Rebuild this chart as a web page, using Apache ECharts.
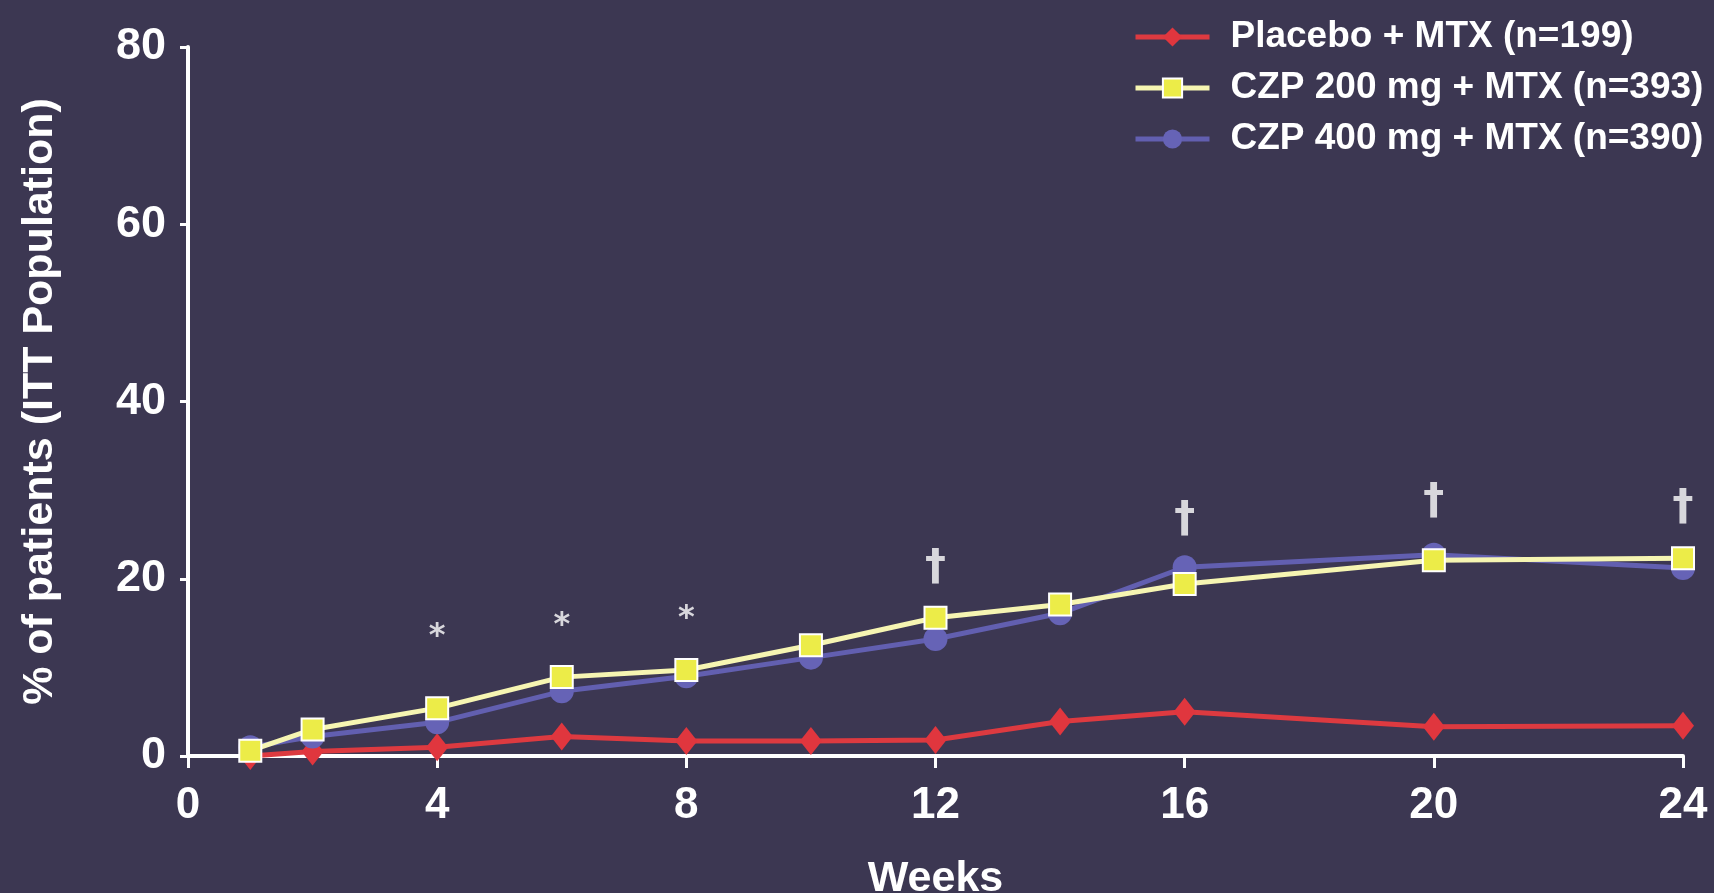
<!DOCTYPE html>
<html>
<head>
<meta charset="utf-8">
<title>% of patients by week</title>
<script src="https://cdn.jsdelivr.net/npm/echarts@6/dist/echarts.min.js"></script>
<style>
  html, body { margin: 0; padding: 0; background: #3b3650; }
  #chart { width: 1714px; height: 893px; }
</style>
</head>
<body>
<div id="chart"></div>
<script>
// Study weeks at which response was assessed
const weeks = [1, 2, 4, 6, 8, 10, 12, 14, 16, 20, 24];

// % of patients (ITT population) per arm
const placebo = [0.0, 0.5, 1.0, 2.2, 1.7, 1.7, 1.8, 3.9, 5.0, 3.3, 3.4];
const czp200  = [0.6, 3.0, 5.4, 8.9, 9.7, 12.5, 15.6, 17.1, 19.4, 22.1, 22.3];
const czp400  = [1.0, 2.2, 3.8, 7.3, 9.0, 11.1, 13.2, 16.1, 21.3, 22.7, 21.2];

const seriesNames = [
  'Placebo + MTX (n=199)',
  'CZP 200 mg + MTX (n=393)',
  'CZP 400 mg + MTX (n=390)'
];

// Significance markers above the curves
const markWeeks  = [4, 6, 8, 12, 16, 20, 24];
const markLevels = [13.5, 14.7, 15.5, 21.2, 26.6, 28.6, 28.0];
const markTexts  = ['*', '*', '*', '\u2020', '\u2020', '\u2020', '\u2020'];

const xTicks = [0, 4, 8, 12, 16, 20, 24];
const yTicks = [0, 20, 40, 60, 80];

const pairs = vals => weeks.map((w, i) => [w, vals[i]]);

const FONT = '"Liberation Sans", Arial, sans-serif';
const MARK_FONT = '"DejaVu Sans", "Liberation Sans", sans-serif';
const white = '#ffffff';

const chart = echarts.init(document.getElementById('chart'), null, { renderer: 'canvas' });

chart.setOption({
  backgroundColor: '#3c3752',
  animation: false,
  grid: { left: 188, right: 31, top: 47, bottom: 137, containLabel: false, outerBoundsMode: 'none' },
  legend: {
    data: seriesNames,
    orient: 'vertical',
    left: 1128,
    top: 11,
    itemWidth: 74,
    itemHeight: 24,
    itemGap: 9,
    lineStyle: { width: 5 },
    textStyle: {
      color: white,
      fontFamily: FONT,
      fontWeight: 'bold',
      fontSize: 37,
      lineHeight: 42,
      padding: [0, 0, 0, 16]
    }
  },
  xAxis: {
    type: 'value',
    min: xTicks[0],
    max: xTicks[xTicks.length - 1],
    interval: 4,
    name: 'Weeks',
    nameLocation: 'middle',
    nameGap: 102,
    nameTextStyle: { color: white, fontFamily: FONT, fontWeight: 'bold', fontSize: 43 },
    axisLine: { show: true, onZero: false, lineStyle: { color: white, width: 4 } },
    axisTick: { show: true, inside: false, length: 12, lineStyle: { color: white, width: 3 } },
    axisLabel: { color: white, fontFamily: FONT, fontWeight: 'bold', fontSize: 44, margin: 28 },
    splitLine: { show: false }
  },
  yAxis: {
    type: 'value',
    min: yTicks[0],
    max: yTicks[yTicks.length - 1],
    interval: 20,
    name: '% of patients (ITT Population)',
    nameLocation: 'middle',
    nameGap: 126,
    nameTextStyle: { color: white, fontFamily: FONT, fontWeight: 'bold', fontSize: 43 },
    axisLine: { show: true, lineStyle: { color: white, width: 4 } },
    axisTick: { show: true, inside: false, length: 8, lineStyle: { color: white, width: 3 } },
    axisLabel: { color: white, fontFamily: FONT, fontWeight: 'bold', fontSize: 45, margin: 22 },
    splitLine: { show: false }
  },
  series: [
    {
      name: seriesNames[0],
      type: 'line',
      data: pairs(placebo),
      symbol: 'diamond',
      symbolSize: [22, 28],
      lineStyle: { color: '#dd3a40', width: 5 },
      itemStyle: { color: '#e0363e' },
      z: 2
    },
    {
      name: seriesNames[2],
      type: 'line',
      data: pairs(czp400),
      symbol: 'circle',
      symbolSize: 24,
      lineStyle: { color: '#625fb0', width: 5 },
      itemStyle: { color: '#6663b6' },
      z: 3
    },
    {
      name: seriesNames[1],
      type: 'line',
      data: pairs(czp200),
      symbol: 'rect',
      symbolSize: 22,
      lineStyle: { color: '#f6f5b2', width: 5 },
      itemStyle: { color: '#ecec48', borderColor: '#ffffff', borderWidth: 2 },
      z: 4
    },
    {
      name: 'marks',
      type: 'scatter',
      data: markWeeks.map((w, i) => ({
        value: [w, markLevels[i]],
        label: { formatter: markTexts[i], fontSize: markTexts[i] === '*' ? 32 : 42 }
      })),
      symbolSize: 0,
      silent: true,
      label: {
        show: true,
        position: 'inside',
        color: white,
        fontFamily: MARK_FONT,
        fontWeight: 'bold'
      },
      z: 5
    }
  ]
});
</script>
</body>
</html>
